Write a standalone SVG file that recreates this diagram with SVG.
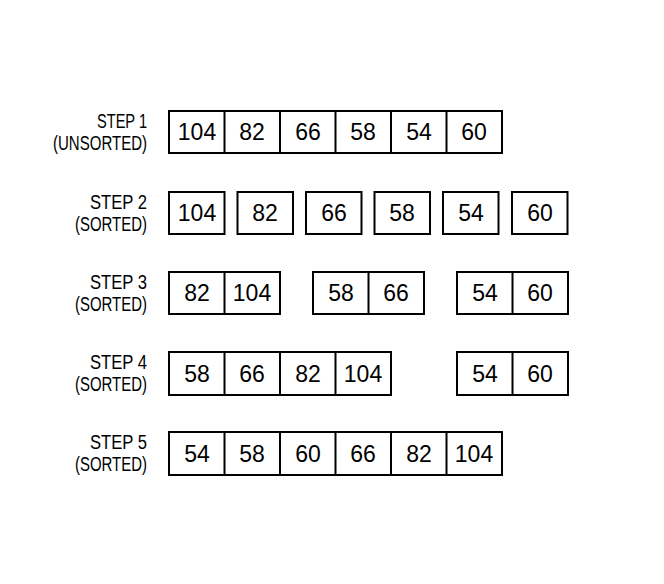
<svg xmlns="http://www.w3.org/2000/svg" width="664" height="584" viewBox="0 0 664 584">
<style>
.box{fill:#fff;stroke:#000;stroke-width:2}
.div{stroke:#000;stroke-width:2}
.num{font-family:"Liberation Sans",Arial,sans-serif;font-size:23px;fill:#000;text-anchor:middle}
.lbl{font-family:"Liberation Sans",Arial,sans-serif;font-size:20px;fill:#000;text-anchor:end}
</style>
<rect width="664" height="584" fill="#fff"/>
<g id="step1">
<text class="lbl" x="147" y="128" textLength="50" lengthAdjust="spacingAndGlyphs">STEP 1</text>
<text class="lbl" x="147" y="150" textLength="94" lengthAdjust="spacingAndGlyphs">(UNSORTED)</text>
<rect class="box" x="169" y="111" width="333" height="42"/>
<path class="div" d="M224.5 111V153M280 111V153M335.5 111V153M391 111V153M446.5 111V153"/>
<text class="num" x="197" y="140">104</text>
<text class="num" x="252" y="140">82</text>
<text class="num" x="308" y="140">66</text>
<text class="num" x="363" y="140">58</text>
<text class="num" x="419" y="140">54</text>
<text class="num" x="474" y="140">60</text>
</g>
<g id="step2">
<text class="lbl" x="147" y="209" textLength="57" lengthAdjust="spacingAndGlyphs">STEP 2</text>
<text class="lbl" x="147" y="231" textLength="72" lengthAdjust="spacingAndGlyphs">(SORTED)</text>
<rect class="box" x="169" y="192" width="55.5" height="42"/>
<rect class="box" x="237.5" y="192" width="55.5" height="42"/>
<rect class="box" x="306" y="192" width="55.5" height="42"/>
<rect class="box" x="374.5" y="192" width="55.5" height="42"/>
<rect class="box" x="443" y="192" width="55.5" height="42"/>
<rect class="box" x="512" y="192" width="55.5" height="42"/>
<text class="num" x="197" y="221">104</text>
<text class="num" x="265" y="221">82</text>
<text class="num" x="334" y="221">66</text>
<text class="num" x="402" y="221">58</text>
<text class="num" x="471" y="221">54</text>
<text class="num" x="540" y="221">60</text>
</g>
<g id="step3">
<text class="lbl" x="147" y="289" textLength="57" lengthAdjust="spacingAndGlyphs">STEP 3</text>
<text class="lbl" x="147" y="311" textLength="72" lengthAdjust="spacingAndGlyphs">(SORTED)</text>
<rect class="box" x="169" y="272" width="111" height="42"/>
<rect class="box" x="313" y="272" width="111" height="42"/>
<rect class="box" x="457" y="272" width="111" height="42"/>
<path class="div" d="M224.5 272V314M368.5 272V314M512.5 272V314"/>
<text class="num" x="197" y="301">82</text>
<text class="num" x="252" y="301">104</text>
<text class="num" x="341" y="301">58</text>
<text class="num" x="396" y="301">66</text>
<text class="num" x="485" y="301">54</text>
<text class="num" x="540" y="301">60</text>
</g>
<g id="step4">
<text class="lbl" x="147" y="369" textLength="57" lengthAdjust="spacingAndGlyphs">STEP 4</text>
<text class="lbl" x="147" y="391" textLength="72" lengthAdjust="spacingAndGlyphs">(SORTED)</text>
<rect class="box" x="169" y="352" width="222" height="43"/>
<rect class="box" x="457" y="352" width="111" height="43"/>
<path class="div" d="M224.5 352V395M280 352V395M335.5 352V395M512.5 352V395"/>
<text class="num" x="197" y="382">58</text>
<text class="num" x="252" y="382">66</text>
<text class="num" x="308" y="382">82</text>
<text class="num" x="363" y="382">104</text>
<text class="num" x="485" y="382">54</text>
<text class="num" x="540" y="382">60</text>
</g>
<g id="step5">
<text class="lbl" x="147" y="449" textLength="57" lengthAdjust="spacingAndGlyphs">STEP 5</text>
<text class="lbl" x="147" y="471" textLength="72" lengthAdjust="spacingAndGlyphs">(SORTED)</text>
<rect class="box" x="169" y="432" width="333" height="43"/>
<path class="div" d="M224.5 432V475M280 432V475M335.5 432V475M391 432V475M446.5 432V475"/>
<text class="num" x="197" y="462">54</text>
<text class="num" x="252" y="462">58</text>
<text class="num" x="308" y="462">60</text>
<text class="num" x="363" y="462">66</text>
<text class="num" x="419" y="462">82</text>
<text class="num" x="474" y="462">104</text>
</g>
<g id="connectors"></g>
</svg>
